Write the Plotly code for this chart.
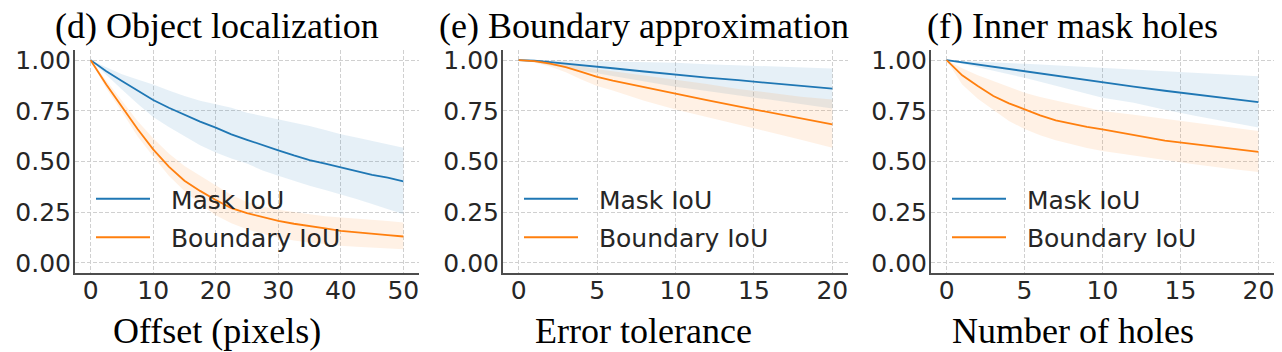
import plotly.graph_objects as go

# ---------------- data ----------------
# (d) Object localization
offset_x = [0, 2.5, 5, 7.5, 10, 12.5, 15, 17.5, 20, 22.5, 25, 27.5, 30, 32.5, 35, 37.5, 40, 42.5, 45, 47.5, 50]
d_mask = [1.0, 0.945, 0.897, 0.848, 0.803, 0.765, 0.729, 0.697, 0.667, 0.634, 0.607, 0.580, 0.555, 0.530, 0.507, 0.489, 0.470, 0.452, 0.434, 0.420, 0.402]
d_mask_hi = [1.0, 0.965, 0.93, 0.905, 0.88, 0.85, 0.823, 0.80, 0.782, 0.765, 0.741, 0.725, 0.708, 0.69, 0.675, 0.655, 0.634, 0.618, 0.601, 0.585, 0.568]
d_mask_lo = [1.0, 0.925, 0.855, 0.785, 0.72, 0.67, 0.625, 0.58, 0.545, 0.515, 0.49, 0.455, 0.43, 0.405, 0.38, 0.36, 0.338, 0.315, 0.29, 0.265, 0.24]
d_bnd = [1.0, 0.88, 0.77, 0.66, 0.56, 0.475, 0.405, 0.355, 0.31, 0.27, 0.245, 0.225, 0.207, 0.193, 0.18, 0.17, 0.158, 0.15, 0.143, 0.137, 0.13]
d_bnd_hi = [1.0, 0.9, 0.795, 0.70, 0.615, 0.54, 0.478, 0.43, 0.385, 0.335, 0.30, 0.278, 0.262, 0.25, 0.24, 0.23, 0.224, 0.22, 0.215, 0.207, 0.199]
d_bnd_lo = [1.0, 0.86, 0.745, 0.625, 0.525, 0.43, 0.355, 0.29, 0.235, 0.195, 0.166, 0.143, 0.125, 0.11, 0.10, 0.092, 0.084, 0.08, 0.076, 0.071, 0.067]

# (e) Boundary approximation
tol_x = [0, 1, 2, 3, 4, 5, 6, 8, 10, 12, 14, 16, 18, 20]
e_mask = [1.0, 0.997, 0.99, 0.983, 0.975, 0.967, 0.96, 0.944, 0.928, 0.914, 0.901, 0.887, 0.873, 0.859]
e_mask_hi = [1.0, 1.0, 0.999, 0.998, 0.997, 0.995, 0.994, 0.99, 0.987, 0.98, 0.974, 0.968, 0.963, 0.959]
e_mask_lo = [1.0, 0.99, 0.975, 0.962, 0.947, 0.935, 0.922, 0.895, 0.869, 0.848, 0.826, 0.805, 0.783, 0.762]
e_bnd = [1.0, 0.995, 0.983, 0.965, 0.942, 0.918, 0.899, 0.866, 0.834, 0.803, 0.772, 0.742, 0.712, 0.683]
e_bnd_hi = [1.0, 1.0, 0.995, 0.985, 0.97, 0.955, 0.945, 0.925, 0.905, 0.882, 0.858, 0.838, 0.82, 0.806]
e_bnd_lo = [1.0, 0.988, 0.968, 0.94, 0.905, 0.872, 0.85, 0.80, 0.757, 0.72, 0.68, 0.645, 0.607, 0.568]

# (f) Inner mask holes
holes_x = [0, 1, 2, 3, 4, 5, 6, 7, 8, 9, 10, 12, 14, 16, 18, 20]
f_mask = [1.0, 0.989, 0.978, 0.966, 0.955, 0.944, 0.933, 0.922, 0.911, 0.90, 0.89, 0.869, 0.849, 0.83, 0.811, 0.793]
f_mask_hi = [1.0, 0.997, 0.993, 0.99, 0.986, 0.982, 0.978, 0.974, 0.97, 0.966, 0.962, 0.954, 0.946, 0.937, 0.929, 0.921]
f_mask_lo = [1.0, 0.982, 0.964, 0.945, 0.93, 0.913, 0.893, 0.872, 0.852, 0.833, 0.815, 0.79, 0.755, 0.725, 0.697, 0.668]
f_bnd = [1.0, 0.925, 0.872, 0.823, 0.787, 0.757, 0.728, 0.703, 0.686, 0.671, 0.659, 0.63, 0.603, 0.585, 0.565, 0.547]
f_bnd_hi = [1.0, 0.96, 0.925, 0.895, 0.865, 0.839, 0.818, 0.80, 0.785, 0.765, 0.749, 0.73, 0.71, 0.69, 0.67, 0.65]
f_bnd_lo = [1.0, 0.88, 0.81, 0.755, 0.70, 0.66, 0.63, 0.605, 0.585, 0.567, 0.552, 0.53, 0.505, 0.485, 0.465, 0.448]

titles = ["(d) Object localization", "(e) Boundary approximation", "(f) Inner mask holes"]
xlabels = ["Offset (pixels)", "Error tolerance", "Number of holes"]
series_names = ["Mask IoU", "Boundary IoU"]
y_ticks = [0.0, 0.25, 0.5, 0.75, 1.0]
y_tick_text = ["0.00", "0.25", "0.50", "0.75", "1.00"]
x_ticks = [[0, 10, 20, 30, 40, 50], [0, 5, 10, 15, 20], [0, 5, 10, 15, 20]]

# ---------------- style ----------------
W, H = 1282, 352
BLUE, ORANGE = "#1f77b4", "#ff7f0e"
BLUE_FILL, ORANGE_FILL = "rgba(31,119,180,0.11)", "rgba(255,127,14,0.11)"
TICK_FONT = dict(family="DejaVu Sans", size=25, color="#262626")
SERIF = "Liberation Serif"
NB = "\u00a0\u00a0"  # visual gap between legend line and label

panels = [
    (offset_x, [(d_mask, d_mask_hi, d_mask_lo), (d_bnd, d_bnd_hi, d_bnd_lo)], [-2.5, 52.5]),
    (tol_x, [(e_mask, e_mask_hi, e_mask_lo), (e_bnd, e_bnd_hi, e_bnd_lo)], [-1, 21]),
    (holes_x, [(f_mask, f_mask_hi, f_mask_lo), (f_bnd, f_bnd_hi, f_bnd_lo)], [-1, 21]),
]
dom_px = [(75, 419), (503, 848), (931, 1274)]
title_cx = [216.5, 644, 1072.5]

fig = go.Figure()
colors = [BLUE, ORANGE]
fills = [BLUE_FILL, ORANGE_FILL]

for i, (xs, series, xr) in enumerate(panels):
    sfx = "" if i == 0 else str(i + 1)
    xa, ya = "x" + sfx, "y" + sfx
    leg = "legend" + sfx
    for j, (mean, hi, lo) in enumerate(series):
        fig.add_trace(go.Scatter(x=xs, y=hi, mode="lines", line=dict(width=0, color=colors[j]),
                                 showlegend=False, hoverinfo="skip", xaxis=xa, yaxis=ya))
        fig.add_trace(go.Scatter(x=xs, y=lo, mode="lines", line=dict(width=0, color=colors[j]),
                                 fill="tonexty", fillcolor=fills[j],
                                 showlegend=False, hoverinfo="skip", xaxis=xa, yaxis=ya))
    for j, (mean, hi, lo) in enumerate(series):
        fig.add_trace(go.Scatter(x=xs, y=mean, mode="lines", name=NB + series_names[j],
                                 line=dict(width=1.8, color=colors[j]),
                                 legend=leg, legendgroup=f"g{i}{j}",
                                 xaxis=xa, yaxis=ya))

layout = dict(
    width=W, height=H,
    margin=dict(l=0, r=0, t=50, b=79),
    paper_bgcolor="white", plot_bgcolor="white",
    showlegend=True,
)
axis_common = dict(showgrid=True, gridcolor="#d0d0d0", gridwidth=1, griddash="4px,2px",
                   zeroline=False, showline=True, linecolor="#4d4d4d", linewidth=2,
                   ticks="", tickfont=TICK_FONT)
annotations = []
for i, (xs, series, xr) in enumerate(panels):
    sfx = "" if i == 0 else str(i + 1)
    x0, x1 = dom_px[i]
    layout["xaxis" + sfx] = dict(axis_common, domain=[x0 / W, x1 / W], range=xr,
                                 tickvals=x_ticks[i], anchor="y" + sfx, ticklabelstandoff=-6)
    layout["yaxis" + sfx] = dict(axis_common, domain=[0, 1], range=[-0.05, 1.05],
                                 tickvals=y_ticks, ticktext=y_tick_text, anchor="x" + sfx,
                                 ticklabelstandoff=-3)
    layout["legend" + sfx] = dict(x=(x0 + 16) / W, y=(273 - 176) / 223, xanchor="left", yanchor="top",
                                  bgcolor="rgba(0,0,0,0)", font=dict(family="DejaVu Sans", size=25, color="#262626"),
                                  itemwidth=54, traceorder="grouped", tracegroupgap=3)
    annotations.append(dict(text=titles[i], x=title_cx[i] / W, y=(273 - 26) / 223, xref="paper", yref="paper",
                            xanchor="center", yanchor="middle", showarrow=False,
                            font=dict(family=SERIF, size=36, color="black")))
    annotations.append(dict(text=xlabels[i], x=title_cx[i] / W, y=(273 - 331) / 223, xref="paper", yref="paper",
                            xanchor="center", yanchor="middle", showarrow=False,
                            font=dict(family=SERIF, size=36, color="black")))
layout["annotations"] = annotations
fig.update_layout(**layout)

fig.write_html("out.html", config={"displayModeBar": False})
